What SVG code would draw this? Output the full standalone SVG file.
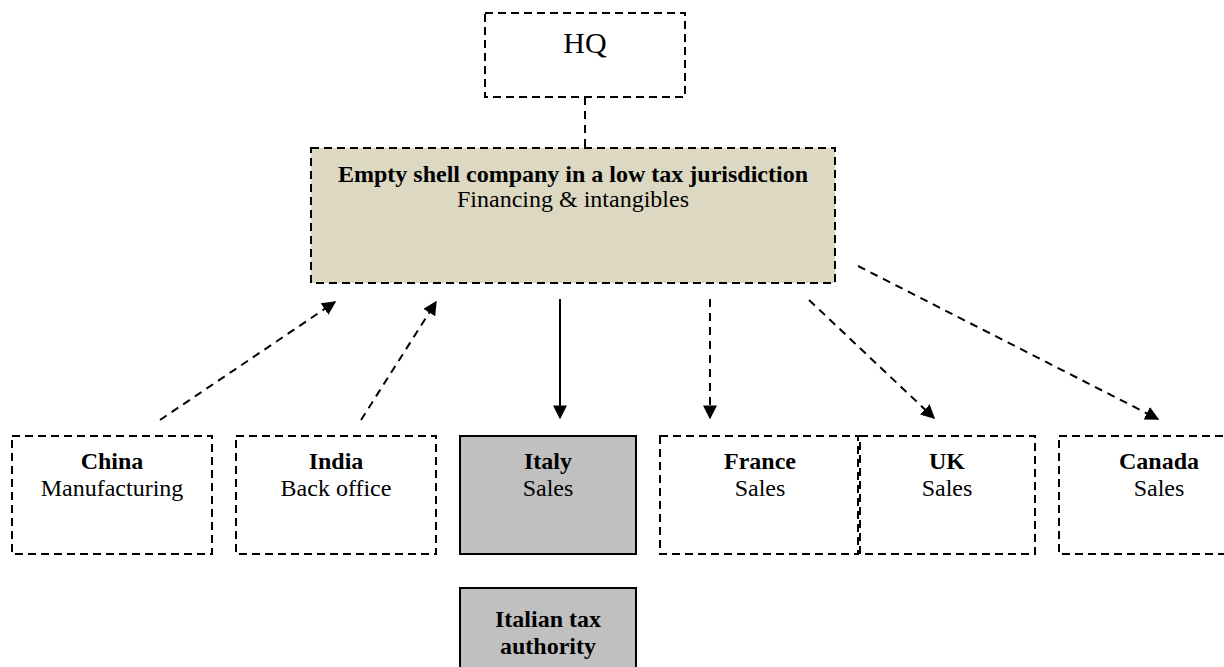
<svg xmlns="http://www.w3.org/2000/svg" width="1224" height="667" viewBox="0 0 1224 667">
<style>
.box{fill:#ffffff;stroke:#000;stroke-width:2;stroke-dasharray:8,5}
.shell{fill:#ddd8c2;stroke:#000;stroke-width:2;stroke-dasharray:8,5}
.grey{fill:#c0c0c0;stroke:#000;stroke-width:2}
text{font-family:"Liberation Serif","Times New Roman",serif;font-size:24px;text-anchor:middle;fill:#000}
.b{font-weight:bold}
.dash{stroke:#000;stroke-width:2;fill:none;stroke-dasharray:8,6}
.solid{stroke:#000;stroke-width:2;fill:none}
</style>
<defs>
<marker id="ah" viewBox="0 0 10 10" refX="9" refY="5" markerWidth="7" markerHeight="7" markerUnits="strokeWidth" orient="auto">
<path d="M0,0 L10,5 L0,10 z" fill="#000"/>
</marker>
</defs>
<g id="connectors">
<line class="dash" x1="585" y1="97" x2="585" y2="148"/>
<line class="dash" x1="160" y1="420" x2="335" y2="302" marker-end="url(#ah)"/>
<line class="dash" x1="361" y1="420" x2="436" y2="302" marker-end="url(#ah)"/>
<line class="solid" x1="560" y1="299" x2="560" y2="418" marker-end="url(#ah)"/>
<line class="dash" x1="710" y1="299" x2="710" y2="418" marker-end="url(#ah)"/>
<line class="dash" x1="809" y1="300" x2="934" y2="418" marker-end="url(#ah)"/>
<line class="dash" x1="858" y1="266" x2="1158" y2="419" marker-end="url(#ah)"/>
</g>
<g id="hq">
<rect class="box" x="485" y="13" width="200" height="84"/>
<text x="585" y="53" style="font-size:30px">HQ</text>
</g>
<g id="shell">
<rect class="shell" x="311" y="148" width="524" height="135"/>
<text class="b" x="573" y="182">Empty shell company in a low tax jurisdiction</text>
<text x="573" y="207">Financing &amp; intangibles</text>
</g>
<g id="china">
<rect class="box" x="12" y="436" width="200" height="118"/>
<text class="b" x="112" y="469">China</text>
<text x="112" y="496">Manufacturing</text>
</g>
<g id="india">
<rect class="box" x="236" y="436" width="200" height="118"/>
<text class="b" x="336" y="469">India</text>
<text x="336" y="496">Back office</text>
</g>
<g id="italy">
<rect class="grey" x="460" y="436" width="176" height="118"/>
<text class="b" x="548" y="469">Italy</text>
<text x="548" y="496">Sales</text>
</g>
<g id="france">
<rect class="box" x="660" y="436" width="198" height="118"/>
<text class="b" x="760" y="469">France</text>
<text x="760" y="496">Sales</text>
</g>
<g id="uk">
<rect class="box" x="860" y="436" width="175" height="118"/>
<text class="b" x="947" y="469">UK</text>
<text x="947" y="496">Sales</text>
</g>
<g id="canada">
<rect class="box" x="1059" y="436" width="200" height="118"/>
<text class="b" x="1159" y="469">Canada</text>
<text x="1159" y="496">Sales</text>
</g>
<g id="italian-tax">
<rect class="grey" x="460" y="588" width="176" height="100"/>
<text class="b" x="548" y="627">Italian tax</text>
<text class="b" x="548" y="654">authority</text>
</g>
</svg>
